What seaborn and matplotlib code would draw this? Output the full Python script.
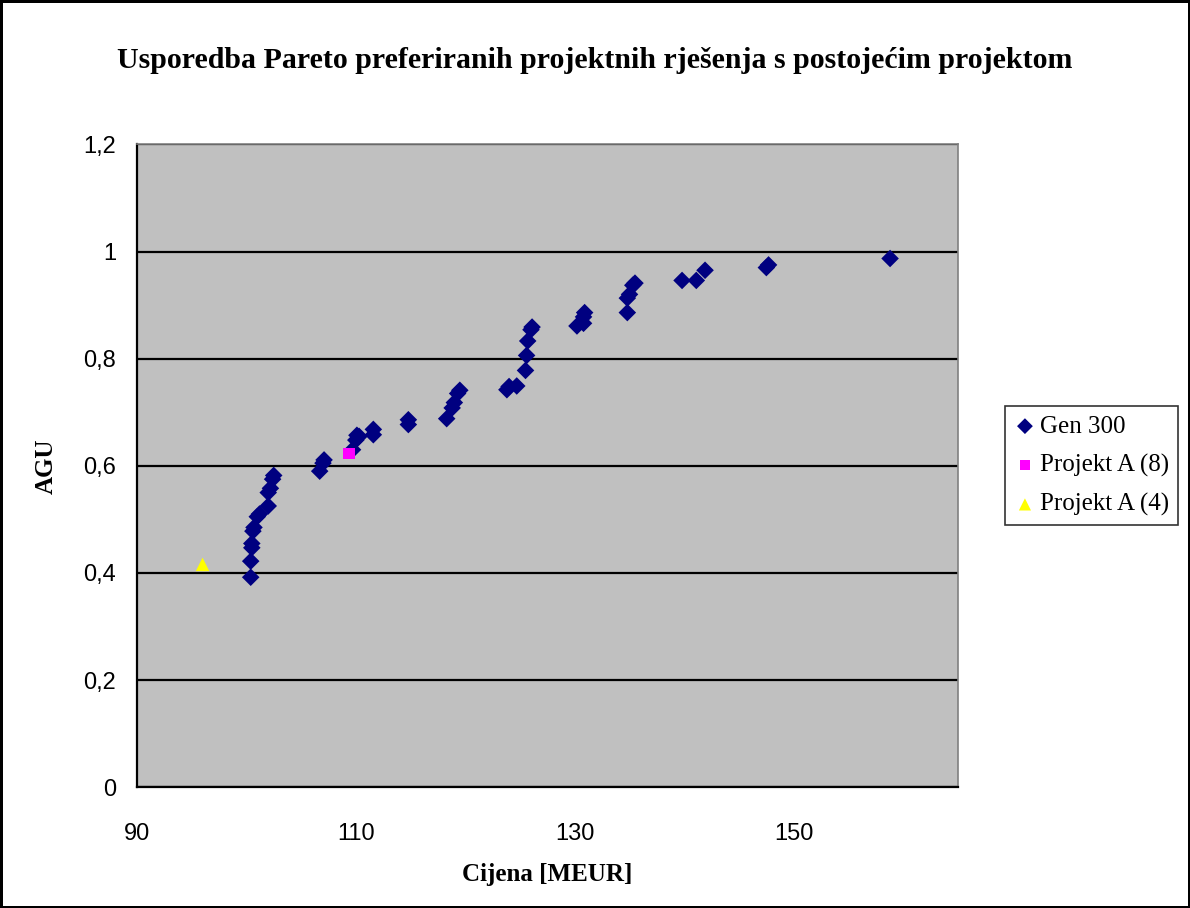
import matplotlib
matplotlib.use("Agg")
import matplotlib.pyplot as plt
import seaborn as sns
import pandas as pd
from matplotlib.ticker import FuncFormatter

# Gen 300 Pareto solutions: price [MEUR] vs AGU
gen_cost = [100.4, 100.4, 100.5, 100.5, 100.6, 100.7, 101.0, 101.2, 102.0, 102.0,
            102.2, 102.4, 102.5, 106.7, 107.0, 107.1, 109.7, 110.0, 110.1, 110.3,
            111.6, 111.6, 114.8, 114.8, 118.3, 118.8, 119.0, 119.3, 119.5, 123.8,
            124.0, 124.7, 125.5, 125.6, 125.7, 126.0, 126.1, 130.2, 130.8, 130.8,
            130.9, 134.8, 134.8, 135.0, 135.3, 135.5, 139.8, 141.1, 141.9, 147.5,
            147.7, 158.8]
gen_agu = [0.392, 0.422, 0.447, 0.455, 0.478, 0.485, 0.505, 0.510, 0.525, 0.550,
           0.558, 0.575, 0.582, 0.590, 0.605, 0.611, 0.630, 0.648, 0.657, 0.655,
           0.658, 0.668, 0.677, 0.686, 0.688, 0.708, 0.718, 0.735, 0.741, 0.742,
           0.748, 0.749, 0.778, 0.806, 0.833, 0.854, 0.859, 0.861, 0.866, 0.878,
           0.886, 0.886, 0.913, 0.920, 0.937, 0.941, 0.946, 0.946, 0.965, 0.970,
           0.975, 0.987]

proj8_cost = [109.4]
proj8_agu = [0.623]
proj4_cost = [96.0]
proj4_agu = [0.416]

y_ticks = [0, 0.2, 0.4, 0.6, 0.8, 1.0, 1.2]
x_ticks = [90, 110, 130, 150]

sns.set_style("white")
plt.rcParams["font.family"] = ["Liberation Serif", "DejaVu Serif"]
plt.rcParams["text.color"] = "black"
plt.rcParams["axes.labelcolor"] = "black"

fig = plt.figure(figsize=(11.9, 9.08), dpi=100, edgecolor="black", linewidth=2.5)
ax = fig.add_axes([0.115, 0.133, 0.69, 0.708])
ax.set_facecolor("#C0C0C0")

gen = pd.DataFrame({"cost": gen_cost, "agu": gen_agu})
p8 = pd.DataFrame({"cost": proj8_cost, "agu": proj8_agu})
p4 = pd.DataFrame({"cost": proj4_cost, "agu": proj4_agu})

sns.scatterplot(data=gen, x="cost", y="agu", ax=ax, marker="D", s=80,
                color="#000080", edgecolor="none", label="Gen 300", zorder=3)
sns.scatterplot(data=p8, x="cost", y="agu", ax=ax, marker="s", s=70,
                color="#FF00FF", edgecolor="none", label="Projekt A (8)", zorder=4)
sns.scatterplot(data=p4, x="cost", y="agu", ax=ax, marker="^", s=95,
                color="#FFFF00", edgecolor="none", label="Projekt A (4)", zorder=4)

ax.set_xlim(90, 165)
ax.set_ylim(0, 1.2)
ax.set_xticks(x_ticks)
ax.set_yticks(y_ticks)
ax.yaxis.set_major_formatter(FuncFormatter(lambda v, p: ("%g" % round(v, 1)).replace(".", ",")))
ax.grid(axis="y", color="black", linewidth=1.6)
ax.set_axisbelow(True)

for side in ["top", "right"]:
    ax.spines[side].set_color("#808080")
    ax.spines[side].set_linewidth(1.2)
for side in ["left", "bottom"]:
    ax.spines[side].set_color("black")
    ax.spines[side].set_linewidth(1.6)

ax.tick_params(axis="both", direction="out", length=7, width=1.3, color="black",
               labelsize=17, labelcolor="black")
ax.tick_params(axis="x", pad=19)
ax.tick_params(axis="y", pad=8)
for lbl in ax.get_xticklabels() + ax.get_yticklabels():
    lbl.set_family(["Liberation Sans", "DejaVu Sans"])

ax.set_xlabel("Cijena [MEUR]", fontsize=18, fontweight="bold", labelpad=13)
ax.set_ylabel("AGU", fontsize=18, fontweight="bold", labelpad=18)
fig.suptitle("Usporedba Pareto preferiranih projektnih rješenja s postojećim projektom",
             x=0.5, y=0.948, fontsize=21.5, fontweight="bold")

leg = ax.legend(loc="center left", bbox_to_anchor=(1.042, 0.5), frameon=True,
                fancybox=False, edgecolor="black", fontsize=18, handletextpad=0.15,
                borderpad=0.35, labelspacing=0.65, handlelength=0.9, markerscale=0.9)
leg.get_frame().set_linewidth(1.2)

fig.savefig("out.png", dpi=100, edgecolor=fig.get_edgecolor())
